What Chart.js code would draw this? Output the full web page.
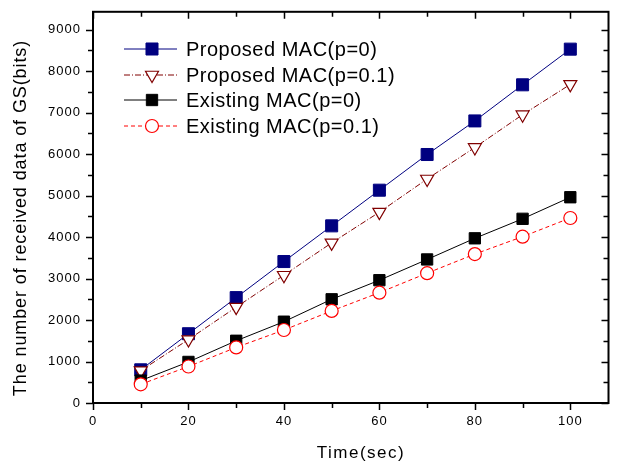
<!DOCTYPE html>
<html>
<head>
<meta charset="utf-8">
<script src="https://cdn.jsdelivr.net/npm/chart.js@4"></script>
<style>
  html, body { margin: 0; padding: 0; background: #fff; }
  #wrap { width: 618px; height: 465px; }
</style>
</head>
<body>
<div id="wrap"><canvas id="chart" width="618" height="465"></canvas></div>
<script>
const times = [10, 20, 30, 40, 50, 60, 70, 80, 90, 100];
const proposedP0 = [800, 1670, 2540, 3410, 4270, 5130, 5990, 6800, 7670, 8530];
const proposedP01 = [780, 1530, 2310, 3080, 3860, 4600, 5400, 6160, 6950, 7680];
const existingP0 = [540, 990, 1500, 1960, 2500, 2960, 3460, 3970, 4440, 4960];
const existingP01 = [450, 880, 1340, 1760, 2220, 2660, 3130, 3590, 4010, 4460];
const seriesNames = ["Proposed MAC(p=0)", "Proposed MAC(p=0.1)", "Existing MAC(p=0)", "Existing MAC(p=0.1)"];
const xTickValues = [0, 20, 40, 60, 80, 100];
const yTickValues = [0, 1000, 2000, 3000, 4000, 5000, 6000, 7000, 8000, 9000];
const xTitle = 'Time(sec)';
const yTitle = 'The number of received data of GS(bits)';

const FONT = "'Liberation Sans', Arial, sans-serif";

function pts(vals) {
    return times.map((t, i) => ({ x: t, y: vals[i] }));
}

// frame, inner/outer ticks and axis titles like the original plot
const framePlugin = {
    id: 'frame',
    beforeDraw(chart) {
        chart.ctx.letterSpacing = '1px';
    },
    afterDraw(chart) {
        const ctx = chart.ctx;
        const a = chart.chartArea;
        const xs = chart.scales.x, ys = chart.scales.y;
        ctx.save();
        ctx.strokeStyle = '#000';
        ctx.lineWidth = 2;
        ctx.strokeRect(a.left, a.top, a.right - a.left, a.bottom - a.top);
        ctx.lineWidth = 1.5;
        ctx.beginPath();
        for (let v = 0; v <= 105; v += 10) {
            const px = Math.round(xs.getPixelForValue(v)) + 0.5;
            const len = v % 20 === 0 ? 7 : 5;
            ctx.moveTo(px, a.bottom); ctx.lineTo(px, a.bottom + len);
            ctx.moveTo(px, a.top); ctx.lineTo(px, a.top + len);
        }
        for (let v = 0; v <= 9000; v += 500) {
            const py = Math.round(ys.getPixelForValue(v)) + 0.5;
            const len = v % 1000 === 0 ? 7 : 5;
            ctx.moveTo(a.left, py); ctx.lineTo(a.left - len, py);
            ctx.moveTo(a.right, py); ctx.lineTo(a.right - len, py);
        }
        ctx.stroke();

        ctx.fillStyle = '#000';
        ctx.textAlign = 'center';
        ctx.textBaseline = 'middle';
        ctx.letterSpacing = '1.5px';
        ctx.font = '17px ' + FONT;
        ctx.fillText(xTitle, 361, 453);
        ctx.letterSpacing = '0.9px';
        ctx.font = '18px ' + FONT;
        ctx.translate(21, 218);
        ctx.rotate(-Math.PI / 2);
        ctx.fillText(yTitle, 0, 0);
        ctx.restore();
        ctx.letterSpacing = '0px';
    }
};

// legend with line + marker sample
const legendPlugin = {
    id: 'lineLegend',
    afterDatasetsDraw(chart) {
        const ctx = chart.ctx;
        const rows = [49, 75, 100, 126];
        ctx.save();
        chart.data.datasets.forEach((ds, i) => {
            const y = rows[i];
            ctx.strokeStyle = ds.borderColor;
            ctx.lineWidth = ds.borderWidth;
            ctx.setLineDash(ds.borderDash || []);
            ctx.beginPath();
            ctx.moveTo(124, y); ctx.lineTo(177, y);
            ctx.stroke();
            ctx.setLineDash([]);
            ctx.fillStyle = ds.pointBackgroundColor;
            ctx.strokeStyle = ds.pointBorderColor;
            ctx.lineWidth = ds.pointBorderWidth;
            Chart.helpers.drawPoint(ctx, {
                pointStyle: ds.pointStyle,
                rotation: ds.pointRotation || 0,
                radius: ds.pointRadius,
                borderWidth: ds.pointBorderWidth
            }, 152, y);
            ctx.fillStyle = '#000';
            ctx.font = '20px ' + FONT;
            ctx.letterSpacing = '0.5px';
            ctx.textBaseline = 'middle';
            ctx.textAlign = 'left';
            ctx.fillText(ds.label, 186, y + 1);
        });
        ctx.restore();
    }
};

new Chart(document.getElementById('chart').getContext('2d'), {
    type: 'line',
    data: {
        datasets: [
            {
                label: seriesNames[0], data: pts(proposedP0), order: 3,
                borderColor: '#000080', borderWidth: 1,
                pointStyle: 'rect', pointRadius: 8.5,
                pointBackgroundColor: '#000080', pointBorderColor: '#000080', pointBorderWidth: 1
            },
            {
                label: seriesNames[1], data: pts(proposedP01), order: 2,
                borderColor: '#800000', borderWidth: 1, borderDash: [6, 2, 1, 2],
                pointStyle: 'triangle', pointRotation: 180, pointRadius: 7.5,
                pointBackgroundColor: '#ffffff', pointBorderColor: '#800000', pointBorderWidth: 1.2
            },
            {
                label: seriesNames[2], data: pts(existingP0), order: 1,
                borderColor: '#000000', borderWidth: 1,
                pointStyle: 'rect', pointRadius: 8,
                pointBackgroundColor: '#000000', pointBorderColor: '#000000', pointBorderWidth: 1
            },
            {
                label: seriesNames[3], data: pts(existingP01), order: 0,
                borderColor: '#ff0000', borderWidth: 1, borderDash: [4, 3],
                pointStyle: 'circle', pointRadius: 6.5,
                pointBackgroundColor: '#ffffff', pointBorderColor: '#ff0000', pointBorderWidth: 1.2
            }
        ]
    },
    options: {
        responsive: false,
        animation: false,
        layout: { padding: { top: 8, right: 2, left: 0, bottom: 0 } },
        plugins: { legend: { display: false }, tooltip: { enabled: false } },
        scales: {
            x: {
                type: 'linear', min: 0, max: 108,
                afterFit(scale) { scale.height = 62; },
                afterBuildTicks(scale) { scale.ticks = xTickValues.map(v => ({ value: v })); },
                grid: { display: false },
                border: { display: false },
                ticks: {
                    padding: 3, color: '#000', font: { family: FONT, size: 13 },
                    callback: v => String(v)
                }
            },
            y: {
                type: 'linear', min: 0, max: 9430,
                afterFit(scale) { scale.width = 93; },
                afterBuildTicks(scale) { scale.ticks = yTickValues.map(v => ({ value: v })); },
                grid: { display: false },
                border: { display: false },
                ticks: {
                    padding: 4, color: '#000', font: { family: FONT, size: 13 },
                    callback: v => String(v)
                }
            }
        }
    },
    plugins: [framePlugin, legendPlugin]
});
</script>
</body>
</html>
